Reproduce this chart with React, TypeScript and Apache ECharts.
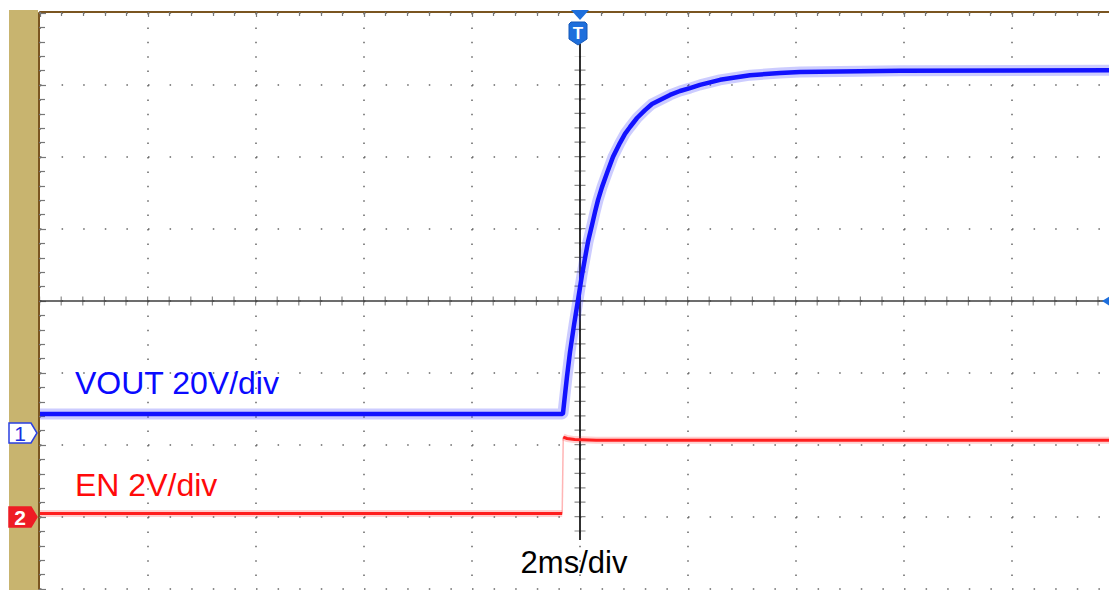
import React, { useEffect, useRef } from "react";
import * as echarts from "echarts";

// ---- Data read from the scope capture ----
// Time axis: 2 ms/div, 10 divisions (-10 ms .. +10 ms), trigger at 0
// VOUT (channel 1), volts, 20 V/div
const voutTimeMs = [-10, -0.33, -0.315, -0.278, -0.241, -0.185, -0.111, -0.037, 0.037, 0.093, 0.148, 0.222, 0.278, 0.333, 0.407, 0.5, 0.611, 0.741, 0.833, 0.926, 1.056, 1.204, 1.333, 1.481, 1.667, 1.852, 2.037, 2.222, 2.593, 3.148, 3.704, 4.074, 5.926, 10];
const voutVolts = [5.3, 5.3, 5.5, 10.6, 15.6, 22.5, 30.0, 36.9, 43.9, 48.6, 53.1, 57.8, 61.4, 64.7, 68.3, 72.2, 76.7, 80.6, 83.1, 85.0, 87.5, 89.7, 91.4, 92.5, 93.9, 95.0, 95.8, 96.7, 98.1, 99.4, 100.0, 100.3, 100.6, 100.8];
// EN (channel 2), volts, 2 V/div
const enTimeMs = [-10, -0.33, -0.31, -0.24, -0.1, 0.3, 10];
const enVolts = [0.1, 0.1, 2.22, 2.18, 2.15, 2.13, 2.13];
const enStepIndex = 1; // last low sample before the edge

// Labels
const ch1Label = "VOUT 20V/div";
const ch2Label = "EN 2V/div";
const timeLabel = "2ms/div";
const ch1Marker = "1";
const ch2Marker = "2";
const triggerMarker = "T";

// Vertical scales (screen divisions and channel volts)
const DIV_MIN = -4;
const DIV_MAX = 4;
const CH1_MIN = -43.333;
const CH1_MAX = 116.667;
const CH2_MIN = -2;
const CH2_MAX = 14;

const FONT = '"Liberation Sans", Arial, Helvetica, sans-serif';

function pairs(xs: number[], ys: number[]) {
  return xs.map((x, i) => [x, ys[i]]);
}

function lineSeries(data: number[][], yAxisIndex: number, color: string, width: number, z: number, extra: any = {}) {
  return {
    type: "line",
    xAxisIndex: 0,
    yAxisIndex,
    data,
    symbol: "none",
    showSymbol: false,
    silent: true,
    z,
    lineStyle: { color, width, cap: "butt", join: "round", ...extra },
    emphasis: { disabled: true },
  };
}

export default function App() {
  const ref = useRef<HTMLDivElement>(null);

  useEffect(() => {
    if (!ref.current) return;
    const chart = echarts.init(ref.current, null, { renderer: "svg" });

    const vout = pairs(voutTimeMs, voutVolts);
    const en = pairs(enTimeMs, enVolts);
    const enLow = en.slice(0, enStepIndex + 1);
    const enStep = en.slice(enStepIndex, enStepIndex + 2);
    const enHigh = en.slice(enStepIndex + 1);

    const option: any = {
      animation: false,
      backgroundColor: "#ffffff",
      grid: { left: 40, top: 13, width: 1080, height: 576, containLabel: false },
      xAxis: [
        {
          type: "value",
          min: -10,
          max: 10,
          interval: 2,
          position: "top",
          offset: 1,
          axisLine: { show: true, onZero: false, lineStyle: { color: "#7a5520", width: 2 } },
          axisTick: { show: true, inside: true, length: 5, lineStyle: { color: "#777", width: 1.2 } },
          minorTick: { show: true, splitNumber: 5, length: 4, lineStyle: { color: "#777", width: 1.2 } },
          axisLabel: { show: false },
          splitLine: { show: true, lineStyle: { color: "#666", width: 1.5, type: [1.5, 12.9] } },
        },
      ],
      yAxis: [
        {
          type: "value",
          min: DIV_MIN,
          max: DIV_MAX,
          interval: 1,
          position: "left",
          offset: 1,
          axisLine: { show: true, onZero: false, lineStyle: { color: "#7a5520", width: 2 } },
          axisTick: { show: true, inside: true, length: 7, lineStyle: { color: "#777", width: 1.2 } },
          minorTick: { show: true, splitNumber: 5, length: 6, lineStyle: { color: "#777", width: 1.2 } },
          axisLabel: { show: false },
          splitLine: { show: true, lineStyle: { color: "#666", width: 1.5, type: [1.5, 20.1] } },
        },
        { type: "value", min: CH1_MIN, max: CH1_MAX, show: false, splitLine: { show: false } },
        { type: "value", min: CH2_MIN, max: CH2_MAX, show: false, splitLine: { show: false } },
      ],
      series: [
        // centre-axis tick stubs (dash trick)
        lineSeries([[-10, 0], [10, 0]], 0, "#8a8a8a", 9, 2, { type: [1.2, 20.4], dashOffset: 0.6 }),
        lineSeries([[0, 3.4], [0, -3.2]], 0, "#8a8a8a", 11, 2, { type: [1.2, 13.2], dashOffset: 0.6 }),
        // centre axes
        lineSeries([[-10, 0], [10, 0]], 0, "#3c3c3c", 1.6, 3),
        lineSeries([[0, 3.57], [0, -3.32]], 0, "#1a1a1a", 1.8, 3),
        // EN trace
        lineSeries(enLow, 2, "rgba(255,40,40,0.22)", 7, 4),
        lineSeries(enHigh, 2, "rgba(255,40,40,0.22)", 7, 4),
        lineSeries(enStep, 2, "rgba(255,90,90,0.45)", 1.5, 5),
        lineSeries(enLow, 2, "#ff1f1f", 3, 5),
        lineSeries(enHigh, 2, "#ff1f1f", 3, 5),
        // VOUT trace
        lineSeries(vout, 1, "rgba(50,50,255,0.25)", 11, 6),
        lineSeries(vout, 1, "#1212ff", 4.5, 7),
      ],
    };
    chart.setOption(option);

    const g1 = chart.convertToPixel({ yAxisIndex: 1 }, 0) as number;
    const g2 = chart.convertToPixel({ yAxisIndex: 2 }, 0) as number;
    const yMid = chart.convertToPixel({ yAxisIndex: 0 }, 0) as number;
    const xMid = chart.convertToPixel({ xAxisIndex: 0 }, 0) as number;

    const marker = (cy: number, fill: string, stroke: string, txtColor: string, text: string, bold: boolean) => [
      {
        type: "polygon",
        z: 30,
        shape: { points: [[9, cy - 10], [31, cy - 10], [37, cy], [31, cy + 10], [9, cy + 10]] },
        style: { fill, stroke, lineWidth: 1.5 },
      },
      {
        type: "text",
        z: 31,
        x: 20,
        y: cy + 0.5,
        style: {
          text,
          fill: txtColor,
          fontSize: 21,
          fontWeight: bold ? "bold" : "normal",
          fontFamily: FONT,
          align: "center",
          verticalAlign: "middle",
        },
      },
    ];

    chart.setOption({
      graphic: [
        { type: "rect", z: 1, shape: { x: 9, y: 10, width: 29, height: 580 }, style: { fill: "#c8b46f" } },
        ...marker(g1, "#ffffff", "#2a3fe0", "#1a2fe0", ch1Marker, false),
        ...marker(g2, "#ee1c24", "#ee1c24", "#ffffff", ch2Marker, true),
        // trigger marker
        {
          type: "polygon",
          z: 20,
          shape: { points: [[xMid - 9, 10], [xMid + 9, 10], [xMid, 20]] },
          style: { fill: "#1e6fdc" },
        },
        {
          type: "polygon",
          z: 20,
          shape: { points: [[xMid - 11, 24], [xMid - 9, 22], [xMid + 5, 22], [xMid + 7, 24], [xMid + 7, 39], [xMid - 2, 45], [xMid - 11, 39]] },
          style: { fill: "#1e6fdc", stroke: "#1558b8", lineWidth: 1 },
        },
        {
          type: "text",
          z: 21,
          x: xMid - 2,
          y: 33,
          style: { text: triggerMarker, fill: "#ffffff", fontSize: 17, fontWeight: "bold", fontFamily: FONT, align: "center", verticalAlign: "middle" },
        },
        // trigger level arrow on right edge
        {
          type: "polygon",
          z: 20,
          shape: { points: [[1102, yMid], [1110, yMid - 5], [1110, yMid + 5]] },
          style: { fill: "#1e6fdc" },
        },
        {
          type: "text",
          z: 20,
          x: 75,
          y: 383,
          style: { text: ch1Label, fill: "#0a0aff", fontSize: 32, fontFamily: FONT, align: "left", verticalAlign: "middle" },
        },
        {
          type: "text",
          z: 20,
          x: 75,
          y: 485,
          style: { text: ch2Label, fill: "#ff0a0a", fontSize: 32, fontFamily: FONT, align: "left", verticalAlign: "middle" },
        },
        {
          type: "text",
          z: 20,
          x: 574,
          y: 562,
          style: { text: timeLabel, fill: "#000000", fontSize: 31, fontFamily: FONT, align: "center", verticalAlign: "middle" },
        },
      ],
    });

    return () => chart.dispose();
  }, []);

  return (
    <div style={{ position: "fixed", left: 0, top: 0, width: 1109, height: 590, overflow: "hidden", background: "#ffffff" }}>
      <div ref={ref} style={{ width: 1130, height: 590 }} />
    </div>
  );
}
